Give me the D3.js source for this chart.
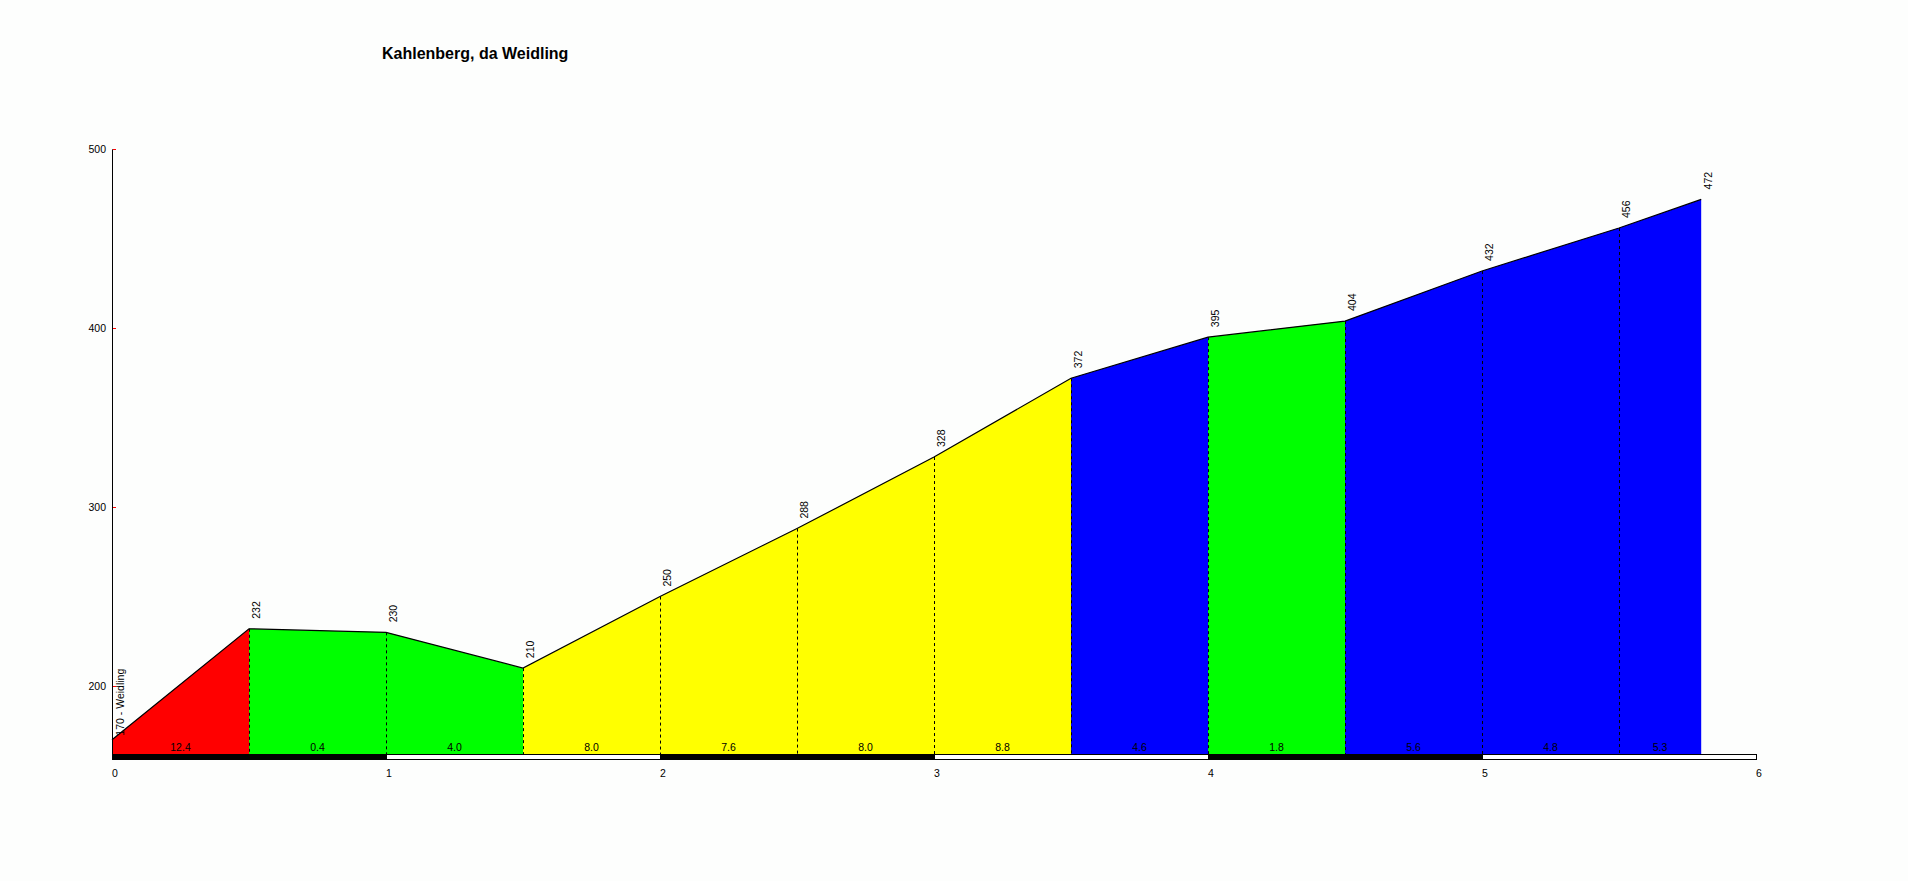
<!DOCTYPE html>
<html>
<head>
<meta charset="utf-8">
<script src="https://cdn.jsdelivr.net/npm/d3@7"></script>
<style>
    body { margin: 0; background: #fdfefd; }
    svg { display: block; font-family: Arial, 'Liberation Sans', sans-serif; }
</style>
</head>
<body>
<div id="chart"></div>
<script>
// Profile data
const title = 'Kahlenberg, da Weidling';
const startName = 'Weidling';
const distances = [0, 0.5, 1, 1.5, 2, 2.5, 3, 3.5, 4, 4.5, 5, 5.5, 5.8];
const elevations = [170, 232, 230, 210, 250, 288, 328, 372, 395, 404, 432, 456, 472];
const gradients = ['12.4', '0.4', '4.0', '8.0', '7.6', '8.0', '8.8', '4.6', '1.8', '5.6', '4.8', '5.3'];
const yTicks = [200, 300, 400, 500];
const xTicks = [0, 1, 2, 3, 4, 5, 6];

const chart = {
    totalWidth: 1908,
    totalHeight: 881,
    left: 112,
    right: 1756,
    top: 149.3,
    bottom: 754
};

const svg = d3.select('#chart')
    .append('svg')
    .attr('width', chart.totalWidth)
    .attr('height', chart.totalHeight);

const xScale = d3.scaleLinear()
    .domain([0, 6])
    .range([chart.left, chart.right]);

const yScale = d3.scaleLinear()
    .domain([162, 500])
    .range([chart.bottom, chart.top]);

// gradient -> colour
const colorScale = d3.scaleThreshold()
    .domain([4.5, 7, 10])
    .range(['#00ff00', '#0000ff', '#ffff00', '#ff0000']);

const points = distances.map((d, i) => ({ km: d, ele: elevations[i] }));
const segments = gradients.map((g, i) => ({ a: points[i], b: points[i + 1], g: g }));

// Title
svg.append('text')
    .attr('x', 382)
    .attr('y', 59)
    .attr('font-size', 16)
    .attr('font-weight', 'bold')
    .text(title);

// Filled segments
const area = d3.area()
    .x(d => xScale(d.km))
    .y0(chart.bottom)
    .y1(d => yScale(d.ele));

svg.append('g')
    .selectAll('path')
    .data(segments)
    .enter()
    .append('path')
    .attr('d', d => area([d.a, d.b]))
    .attr('fill', d => colorScale(+d.g));

// Dashed verticals
svg.append('g')
    .selectAll('line')
    .data(points.slice(1, -1))
    .enter()
    .append('line')
    .attr('x1', d => xScale(d.km) + 0.5)
    .attr('x2', d => xScale(d.km) + 0.5)
    .attr('y1', d => yScale(d.ele))
    .attr('y2', chart.bottom)
    .attr('stroke', '#000')
    .attr('stroke-dasharray', '3,3');

// Outline
const line = d3.line()
    .x(d => xScale(d.km))
    .y(d => yScale(d.ele));

svg.append('path')
    .attr('d', line(points))
    .attr('fill', 'none')
    .attr('stroke', '#000')
    .attr('stroke-width', 1.2);

// Gradient labels
svg.append('g')
    .selectAll('text')
    .data(segments)
    .enter()
    .append('text')
    .attr('x', d => (xScale(d.a.km) + xScale(d.b.km)) / 2)
    .attr('y', chart.bottom - 3)
    .attr('text-anchor', 'middle')
    .attr('font-size', 10.5)
    .text(d => d.g);

// Elevation labels
svg.append('g')
    .selectAll('text')
    .data(points.slice(1))
    .enter()
    .append('text')
    .attr('transform', d => `translate(${xScale(d.km) + 11}, ${yScale(d.ele) - 10}) rotate(-90)`)
    .attr('font-size', 10.5)
    .text(d => d.ele);

svg.append('text')
    .attr('transform', `translate(${xScale(0) + 12}, ${yScale(elevations[0]) - 4}) rotate(-90)`)
    .attr('font-size', 10.5)
    .text(`${elevations[0]} - ${startName}`);

// Y axis
svg.append('line')
    .attr('x1', chart.left + 0.5)
    .attr('x2', chart.left + 0.5)
    .attr('y1', yScale(500))
    .attr('y2', chart.bottom)
    .attr('stroke', '#000');

const yAxis = svg.append('g');
yAxis.selectAll('line')
    .data(yTicks)
    .enter()
    .append('line')
    .attr('x1', chart.left + 1)
    .attr('x2', chart.left + 4)
    .attr('y1', d => Math.round(yScale(d)) + 0.5)
    .attr('y2', d => Math.round(yScale(d)) + 0.5)
    .attr('stroke', '#ff0000');

yAxis.selectAll('text')
    .data(yTicks)
    .enter()
    .append('text')
    .attr('x', chart.left - 6)
    .attr('y', d => yScale(d))
    .attr('dy', '0.35em')
    .attr('text-anchor', 'end')
    .attr('font-size', 10.5)
    .text(d => d);

// Distance bar
svg.append('g')
    .selectAll('rect')
    .data(xTicks.slice(0, -1))
    .enter()
    .append('rect')
    .attr('x', d => xScale(d) + 0.5)
    .attr('y', chart.bottom + 0.5)
    .attr('width', d => xScale(d + 1) - xScale(d))
    .attr('height', 5)
    .attr('fill', d => d % 2 === 0 ? '#000' : '#fff')
    .attr('stroke', '#000');

svg.append('g')
    .selectAll('text')
    .data(xTicks)
    .enter()
    .append('text')
    .attr('x', d => xScale(d))
    .attr('y', 777)
    .attr('font-size', 10.5)
    .text(d => d);
</script>
</body>
</html>
